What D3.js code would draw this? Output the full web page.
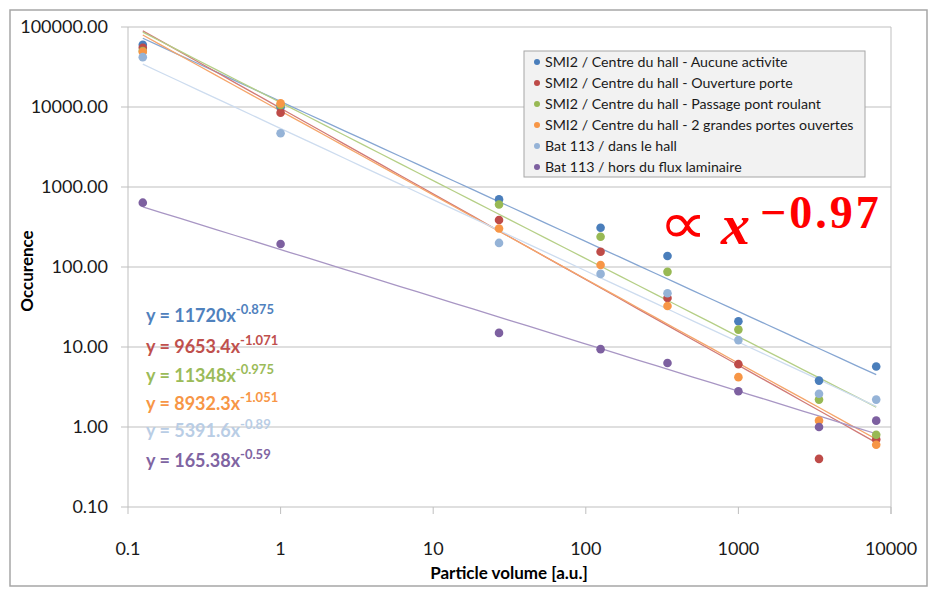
<!DOCTYPE html>
<html>
<head>
<meta charset="utf-8">
<script src="https://cdn.jsdelivr.net/npm/d3@7"></script>
<style>
  body { margin: 0; background: #fff; }
  svg { display: block; }
</style>
</head>
<body>
<svg width="932" height="591"></svg>
<script>
let volumes = [0.125, 1, 27, 125, 343, 1000, 3375, 8000];

let seriesNames = [
  "SMI2 / Centre du hall - Aucune activite",
  "SMI2 / Centre du hall - Ouverture porte",
  "SMI2 / Centre du hall - Passage pont roulant",
  "SMI2 / Centre du hall - 2 grandes portes ouvertes",
  "Bat 113 / dans le hall",
  "Bat 113 / hors du flux laminaire"
];

let aucune = [60000, 9900, 700, 310, 137, 21, 3.8, 5.7];
let ouverture = [55000, 8500, 387, 155, 41, 6.1, 0.4, 0.7];
let passage = [50000, 10600, 605, 239, 87, 16.5, 2.2, 0.8];
let portes = [49000, 11100, 303, 106, 32.5, 4.2, 1.2, 0.6];
let dansHall = [42000, 4700, 200, 82, 47, 12.2, 2.6, 2.2];
let horsFlux = [637, 194, 15, 9.4, 6.3, 2.8, 1.0, 1.2];

let fitA = [11720, 9653.4, 11348, 8932.3, 5391.6, 165.38];
let fitB = [-0.875, -1.071, -0.975, -1.051, -0.89, -0.59];
let fitLabels = ["11720", "9653.4", "11348", "8932.3", "5391.6", "165.38"];
let fitExps = ["-0.875", "-1.071", "-0.975", "-1.051", "-0.89", "-0.59"];

let xTicks = [0.1, 1, 10, 100, 1000, 10000];
let yTicks = [0.1, 1, 10, 100, 1000, 10000, 100000];

let dotColors = ["#4a7ebb", "#be4b48", "#98b954", "#f79646", "#95b3d7", "#7d60a0"];
let lineColors = ["#86a6d2", "#d07a77", "#b5cf86", "#f5a56a", "#cddcef", "#a896c4"];
let textColors = ["#4f81bd", "#c0504d", "#9bbb59", "#f79646", "#b9cde5", "#8064a2"];

let allSeries = [aucune, ouverture, passage, portes, dansHall, horsFlux];

let svg = d3.select("svg");

svg.append("rect")
  .attr("x", 10).attr("y", 10)
  .attr("width", 917).attr("height", 576)
  .attr("fill", "#fff")
  .attr("stroke", "#a6a6a6")
  .attr("stroke-width", 1.5);

let plotLeft = 128, plotRight = 891, plotTop = 27, plotBottom = 507;

let x = d3.scaleLog().domain([0.1, 10000]).range([plotLeft, plotRight]);
let y = d3.scaleLog().domain([0.1, 100000]).range([plotBottom, plotTop]);

// grid
svg.append("g")
  .selectAll("line")
  .data(yTicks)
  .enter()
  .append("line")
  .attr("x1", plotLeft - 7)
  .attr("x2", plotRight)
  .attr("y1", d => y(d))
  .attr("y2", d => y(d))
  .attr("stroke", "#bfbfbf")
  .attr("stroke-width", 1);

// x ticks
svg.append("g")
  .selectAll("line")
  .data(xTicks)
  .enter()
  .append("line")
  .attr("x1", d => x(d))
  .attr("x2", d => x(d))
  .attr("y1", plotBottom)
  .attr("y2", plotBottom + 7)
  .attr("stroke", "#bfbfbf");

svg.append("line")
  .attr("x1", plotLeft).attr("x2", plotLeft)
  .attr("y1", plotTop).attr("y2", plotBottom)
  .attr("stroke", "#bfbfbf");
svg.append("line")
  .attr("x1", plotRight).attr("x2", plotRight)
  .attr("y1", plotTop).attr("y2", plotBottom + 7)
  .attr("stroke", "#bfbfbf");

let fmt = d3.format(".2f");

svg.append("g")
  .selectAll("text")
  .data(yTicks)
  .enter()
  .append("text")
  .attr("x", 108)
  .attr("y", d => y(d) + 6)
  .attr("text-anchor", "end")
  .style("font-family", "Lato, 'Open Sans', sans-serif")
  .style("font-size", "18px")
  .style("fill", "#1a1a1a")
  .text(d => fmt(d));

svg.append("g")
  .selectAll("text")
  .data(xTicks)
  .enter()
  .append("text")
  .attr("x", d => x(d))
  .attr("y", 555)
  .attr("text-anchor", "middle")
  .style("font-family", "Lato, 'Open Sans', sans-serif")
  .style("font-size", "18px")
  .style("fill", "#1a1a1a")
  .text(d => String(d));

svg.append("text")
  .attr("transform", "translate(33, 271) rotate(-90)")
  .attr("text-anchor", "middle")
  .style("font-family", "Lato, sans-serif")
  .style("font-weight", "bold")
  .style("font-size", "17px")
  .text("Occurence");

svg.append("text")
  .attr("x", 509)
  .attr("y", 579)
  .attr("text-anchor", "middle")
  .style("font-family", "Lato, sans-serif")
  .style("font-weight", "bold")
  .style("font-size", "17px")
  .text("Particle volume [a.u.]");

// trend lines
let line = d3.line().x(d => x(d[0])).y(d => y(d[1]));
let xFit = d3.range(0, 41).map(i => Math.pow(10, Math.log10(0.125) + (i / 40) * (Math.log10(8000) - Math.log10(0.125))));

let trends = svg.append("g");
fitA.forEach((a, i) => {
  trends.append("path")
    .attr("d", line(xFit.map(v => [v, a * Math.pow(v, fitB[i])])))
    .attr("fill", "none")
    .attr("stroke", lineColors[i])
    .attr("stroke-width", 1.3);
});

// points
let pts = svg.append("g");
allSeries.forEach((s, i) => {
  pts.selectAll(null)
    .data(s)
    .enter()
    .append("circle")
    .attr("cx", (d, j) => x(volumes[j]))
    .attr("cy", d => y(d))
    .attr("r", 4.3)
    .attr("fill", dotColors[i]);
});

// equations
let eqY = [322, 353, 382, 410, 437, 467];
fitLabels.forEach((lab, i) => {
  let t = svg.append("text")
    .attr("x", 146)
    .attr("y", eqY[i])
    .style("font-family", "Lato, sans-serif")
    .style("font-weight", "bold")
    .style("font-size", "18px")
    .style("fill", textColors[i]);
  t.append("tspan").text("y = " + lab + "x");
  t.append("tspan")
    .attr("dy", -8)
    .style("font-size", "13px")
    .text(fitExps[i]);
});

// legend
let lg = svg.append("g");
lg.append("rect")
  .attr("x", 524).attr("y", 51)
  .attr("width", 341).attr("height", 126)
  .attr("fill", "#f2f2f2")
  .attr("stroke", "#a6a6a6");
seriesNames.forEach((n, i) => {
  let cy = 62 + i * 21;
  lg.append("circle")
    .attr("cx", 537).attr("cy", cy).attr("r", 3)
    .attr("fill", dotColors[i]);
  lg.append("text")
    .attr("x", 545).attr("y", cy + 5)
    .style("font-family", "Lato, sans-serif")
    .style("font-size", "14.2px")
    .style("fill", "#1a1a1a")
    .text(n);
});

// annotation
svg.append("text")
  .attr("transform", "translate(659, 243) scale(1.35, 1.15)")
  .style("fill", "#ff0000")
  .style("font-family", "'DejaVu Sans', sans-serif")
  .style("font-size", "50px")
  .text("\u221D");
svg.append("text")
  .attr("x", 721)
  .attr("y", 244)
  .style("fill", "#ff0000")
  .style("font-family", "'Liberation Serif', serif")
  .style("font-weight", "bold")
  .style("font-style", "italic")
  .style("font-size", "58px")
  .text("x");
svg.append("text")
  .attr("x", 760)
  .attr("y", 228)
  .style("fill", "#ff0000")
  .style("font-family", "'Liberation Serif', serif")
  .style("font-weight", "bold")
  .style("font-size", "46px")
  .style("letter-spacing", "3px")
  .text("\u22120.97");
</script>
</body>
</html>
